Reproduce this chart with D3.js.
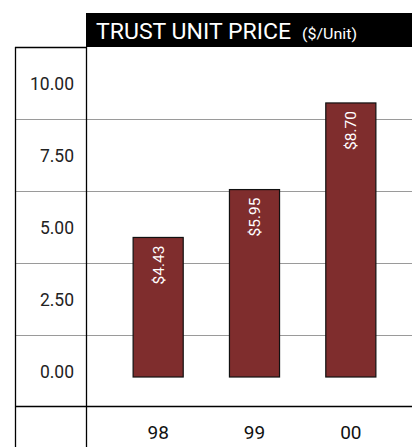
<!DOCTYPE html>
<html><head><meta charset="utf-8">
<script src="https://cdn.jsdelivr.net/npm/d3@7"></script>
<style>html,body{margin:0;padding:0;background:#fff;}svg{display:block;font-family:Roboto, "Liberation Sans", sans-serif;}</style>
</head><body>
<script>
const categories = ["98", "99", "00"];
const values = [4.43, 5.95, 8.70];
const barLabels = ["$4.43", "$5.95", "$8.70"];
const tickLabels = ["10.00", "7.50", "5.00", "2.50", "0.00"];
const titleMain = "TRUST UNIT PRICE";
const titleSub = "($/Unit)";

const W = 412, H = 447;
const svg = d3.select("body").append("svg").attr("width", W).attr("height", H);

const leftX = 15, colX = 86, tableTop = 47, tableBottom = 407;

// row scale for the table-like tick rows
const rowScale = d3.scaleBand().domain(tickLabels).range([tableTop, tableBottom]);
// value scale for bars
const y = d3.scaleLinear().domain([0, 10]).range([377, 62]);
const x = d3.scaleBand().domain(categories).range([110, 399]).paddingInner(0.48).paddingOuter(0.24);

// grid row lines
svg.append("g").selectAll("line").data(tickLabels.slice(1)).join("line")
  .attr("x1", leftX).attr("x2", W)
  .attr("y1", d => rowScale(d) + 0.5).attr("y2", d => rowScale(d) + 0.5)
  .attr("stroke", "#9a9a9a").attr("stroke-width", 1.2);

// title box
svg.append("rect").attr("x", colX).attr("y", 13).attr("width", W - colX).attr("height", tableTop - 13).attr("fill", "#000");
const t = svg.append("text").attr("x", 96).attr("y", 39).attr("fill", "#fff");
t.append("tspan").attr("font-size", 21.5).attr("textLength", 195).attr("lengthAdjust", "spacingAndGlyphs").text(titleMain);
t.append("tspan").attr("font-size", 15).attr("dx", 11).attr("textLength", 55).attr("lengthAdjust", "spacingAndGlyphs").text(titleSub);

// table frame
svg.append("line").attr("x1", leftX).attr("x2", colX).attr("y1", tableTop + 0.5).attr("y2", tableTop + 0.5).attr("stroke", "#000").attr("stroke-width", 1.3);
svg.append("line").attr("x1", leftX).attr("x2", W).attr("y1", tableBottom - 0.5).attr("y2", tableBottom - 0.5).attr("stroke", "#000").attr("stroke-width", 1.3);
svg.append("line").attr("x1", leftX + 0.5).attr("x2", leftX + 0.5).attr("y1", tableTop).attr("y2", H).attr("stroke", "#000").attr("stroke-width", 1.3);
svg.append("line").attr("x1", colX + 0.5).attr("x2", colX + 0.5).attr("y1", tableTop).attr("y2", H).attr("stroke", "#000").attr("stroke-width", 1.3);

// tick labels
svg.append("g").selectAll("text").data(tickLabels).join("text")
  .attr("x", 74).attr("y", d => rowScale(d) + rowScale.bandwidth() / 2 + 6.5)
  .attr("text-anchor", "end").attr("font-size", 17.5).attr("fill", "#222")
  .text(d => d);

// bars
const data = categories.map((c, i) => ({c, v: values[i], label: barLabels[i]}));
svg.append("g").selectAll("rect").data(data).join("rect")
  .attr("x", d => x(d.c)).attr("width", x.bandwidth())
  .attr("y", d => y(d.v)).attr("height", d => y(0) - y(d.v))
  .attr("fill", "#7f2d2d").attr("stroke", "#111").attr("stroke-width", 1.2);

// bar labels (rotated)
svg.append("g").selectAll("text").data(data).join("text")
  .attr("transform", d => `translate(${x(d.c) + x.bandwidth() / 2 + 5.5},${y(d.v) + 8}) rotate(-90)`)
  .attr("text-anchor", "end").attr("font-size", 15.5).attr("fill", "#fff")
  .text(d => d.label);

// category labels
svg.append("g").selectAll("text").data(categories).join("text")
  .attr("x", d => x(d) + x.bandwidth() / 2).attr("y", 439)
  .attr("text-anchor", "middle").attr("font-size", 19).attr("fill", "#111")
  .text(d => d);
</script>
</body></html>
